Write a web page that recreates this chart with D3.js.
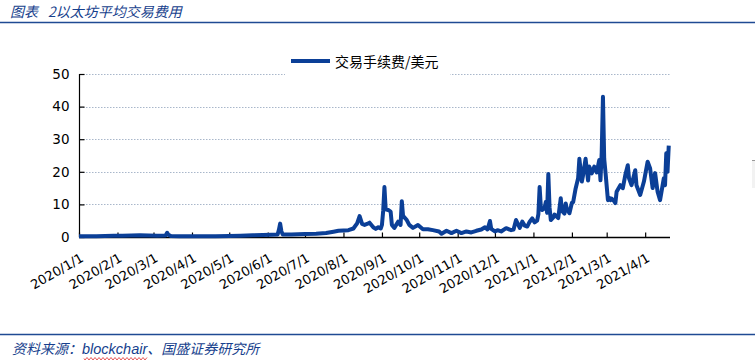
<!DOCTYPE html>
<html>
<head>
<meta charset="utf-8">
<script src="https://cdn.jsdelivr.net/npm/d3@7"></script>
<style>
  html, body { margin: 0; padding: 0; background: #fff; }
  svg { display: block; }
</style>
</head>
<body>
<svg id="chart" width="755" height="360"></svg>
<script>
// ---------- data ----------
const titleLabel = "图表";
const titleText = "2以太坊平均交易费用";
const seriesName = "交易手续费/美元";
const sourcePre = "资料来源：";
const sourceLatin = "blockchair";
const sourcePost = "、国盛证券研究所";

const yTicks = [0, 10, 20, 30, 40, 50];

const dates = [
  "2020-01-01","2020-01-08","2020-01-15","2020-01-22","2020-01-29","2020-02-05","2020-02-12","2020-02-19","2020-02-26",
  "2020-03-04","2020-03-10","2020-03-11","2020-03-12","2020-03-13","2020-03-15","2020-03-22","2020-04-01","2020-04-10",
  "2020-04-20","2020-05-01","2020-05-10","2020-05-20","2020-05-28","2020-06-04","2020-06-09","2020-06-10","2020-06-11",
  "2020-06-12","2020-06-13","2020-06-20","2020-07-01","2020-07-10","2020-07-18","2020-07-24","2020-07-28","2020-08-01",
  "2020-08-05","2020-08-09","2020-08-12","2020-08-14","2020-08-16","2020-08-18","2020-08-20","2020-08-22","2020-08-25",
  "2020-08-27","2020-08-29","2020-08-31","2020-09-01","2020-09-02","2020-09-03","2020-09-04","2020-09-06","2020-09-08",
  "2020-09-09","2020-09-11","2020-09-14","2020-09-16","2020-09-17","2020-09-18","2020-09-21","2020-09-23","2020-09-26",
  "2020-09-30","2020-10-04","2020-10-08","2020-10-12","2020-10-17","2020-10-19","2020-10-23","2020-10-27","2020-10-31",
  "2020-11-04","2020-11-08","2020-11-12","2020-11-16","2020-11-20","2020-11-23","2020-11-25","2020-11-27","2020-11-28",
  "2020-12-01","2020-12-03","2020-12-06","2020-12-10","2020-12-14","2020-12-16","2020-12-18","2020-12-21","2020-12-23",
  "2020-12-25","2020-12-27","2020-12-29","2020-12-31","2021-01-02","2021-01-04","2021-01-05","2021-01-06","2021-01-07",
  "2021-01-08","2021-01-10","2021-01-11","2021-01-12","2021-01-13","2021-01-14","2021-01-15","2021-01-17","2021-01-18",
  "2021-01-21","2021-01-23","2021-01-24","2021-01-26","2021-01-27","2021-01-28","2021-01-30","2021-02-01","2021-02-02",
  "2021-02-04","2021-02-06","2021-02-07","2021-02-09","2021-02-10","2021-02-12","2021-02-14","2021-02-15","2021-02-17",
  "2021-02-19","2021-02-21","2021-02-23","2021-02-24","2021-02-25","2021-02-26","2021-02-27","2021-02-28","2021-03-02",
  "2021-03-03","2021-03-04","2021-03-05","2021-03-07","2021-03-08","2021-03-09","2021-03-12","2021-03-14","2021-03-16",
  "2021-03-18","2021-03-19","2021-03-21","2021-03-24","2021-03-25","2021-03-28","2021-03-31","2021-04-03","2021-04-05",
  "2021-04-07","2021-04-09","2021-04-11","2021-04-13","2021-04-16","2021-04-17","2021-04-18","2021-04-19","2021-04-20"
];
const fees = [
  0.2,0.2,0.25,0.3,0.35,0.4,0.45,0.5,0.45,
  0.4,0.45,0.6,1.3,0.7,0.3,0.2,0.2,0.2,
  0.2,0.3,0.4,0.5,0.6,0.7,0.8,2.2,4.1,
  1.8,0.8,0.8,0.9,1.0,1.2,1.6,1.9,2.0,
  2.1,2.6,4.2,6.4,4.0,3.7,4.0,4.4,3.0,
  2.5,3.0,2.6,3.7,8.0,15.3,8.5,8.3,7.8,
  3.7,2.8,4.7,3.7,11.0,6.5,5.2,3.7,2.8,
  3.7,2.4,2.4,2.1,1.7,1.0,1.9,1.2,1.9,
  1.2,1.7,1.4,1.9,2.3,3.0,2.3,4.9,2.5,
  1.7,2.1,1.7,2.7,2.1,2.3,5.2,2.8,4.7,
  3.5,3.2,4.7,5.7,4.5,5.0,7.0,15.3,9.0,
  8.3,9.0,10.8,7.4,19.3,9.0,5.2,6.0,6.9,
  5.8,11.9,8.0,7.2,10.3,8.5,7.3,10.5,10.7,
  14.9,18.0,24.0,17.0,19.0,24.0,17.3,21.6,19.5,
  21.6,19.8,23.6,17.4,26.0,43.0,24.0,20.0,11.3,
  12.0,11.3,11.8,11.0,10.4,13.9,15.9,15.0,19.0,
  22.0,18.0,15.9,20.5,15.9,12.9,17.0,23.1,21.0,
  15.0,19.6,13.9,11.3,18.0,15.9,25.7,20.0,28.0
];

// ---------- drawing ----------
const parse = d3.timeParse("%Y-%m-%d");
const data = dates.map((d, i) => ({ date: parse(d), value: fees[i] }));

const svg = d3.select("#chart");
const blue = "#0b3f97";
const textBlue = "#173f8d";

// header
const title = svg.append("text")
  .attr("y", 17)
  .attr("font-family", "Noto Sans CJK SC")
  .attr("font-style", "italic")
  .attr("font-size", 14)
  .attr("fill", textBlue);
title.append("tspan").attr("x", 10).text(titleLabel);
title.append("tspan").attr("x", 48).text(titleText);
svg.append("line")
  .attr("x1", 0).attr("x2", 755).attr("y1", 22.5).attr("y2", 22.5)
  .attr("stroke", "#1f4a93").attr("stroke-width", 1.5);

const x = d3.scaleTime()
  .domain([parse("2020-01-01"), parse("2021-04-21")])
  .range([79, 670]);
const y = d3.scaleLinear().domain([0, 50]).range([237, 74]);

// gridlines
svg.append("g")
  .selectAll("line")
  .data(yTicks.filter(t => t > 0))
  .join("line")
  .attr("x1", 80).attr("x2", 670)
  .attr("y1", d => Math.round(y(d)) + 0.5).attr("y2", d => Math.round(y(d)) + 0.5)
  .attr("stroke", "#a9b7ca").attr("stroke-width", 1)
  .attr("stroke-dasharray", "1.5,1.5");

// legend (white box covering gridline)
svg.append("rect").attr("x", 285).attr("y", 48).attr("width", 165).attr("height", 27).attr("fill", "#fff");
svg.append("line")
  .attr("x1", 291).attr("x2", 330).attr("y1", 61).attr("y2", 61)
  .attr("stroke", blue).attr("stroke-width", 4);
svg.append("text")
  .attr("x", 335).attr("y", 66.5)
  .attr("font-family", "Noto Sans CJK SC")
  .attr("font-size", 14)
  .attr("fill", "#000")
  .text(seriesName);

// y axis
const yAxis = d3.axisLeft(y).tickValues(yTicks).tickSize(-5).tickPadding(10).tickFormat(d3.format("d"));
const gy = svg.append("g").attr("transform", "translate(79.5,0)").call(yAxis);
gy.select(".domain").attr("stroke", "#000").attr("stroke-width", 1.2).attr("d", `M0,${y(50)}V${y(0)}`);
gy.selectAll(".tick line").attr("stroke", "#000").attr("stroke-width", 1.2);
gy.selectAll(".tick text")
  .attr("font-family", "DejaVu Sans").attr("font-size", 13.5).attr("fill", "#000");

// x axis
const xAxis = d3.axisBottom(x)
  .ticks(d3.timeMonth.every(1))
  .tickSize(-5)
  .tickFormat(d3.timeFormat("%Y/%-m/%-d"));
const gx = svg.append("g").attr("transform", "translate(0,237.5)").call(xAxis);
gx.select(".domain").attr("stroke", "#000").attr("stroke-width", 1.5).attr("d", "M79,0H670");
gx.selectAll(".tick line").attr("stroke", "#000").attr("stroke-width", 1.2);
gx.selectAll(".tick text")
  .attr("font-family", "DejaVu Sans").attr("font-size", 13).attr("fill", "#000")
  .attr("text-anchor", "end")
  .attr("dy", 0)
  .attr("y", 0)
  .attr("transform", "translate(5,23) rotate(-30)");

// line
const line = d3.line().x(d => x(d.date)).y(d => y(d.value));
svg.append("path")
  .datum(data)
  .attr("d", line)
  .attr("fill", "none")
  .attr("stroke", blue)
  .attr("stroke-width", 4)
  .attr("stroke-linejoin", "round")
  .attr("stroke-linecap", "butt");

// footer
svg.append("line")
  .attr("x1", 0).attr("x2", 755).attr("y1", 334.5).attr("y2", 334.5)
  .attr("stroke", "#1f4a93").attr("stroke-width", 1.5);
const foot = svg.append("text")
  .attr("x", 12).attr("y", 354)
  .attr("font-family", "Noto Sans CJK SC")
  .attr("font-style", "italic")
  .attr("font-size", 14)
  .attr("fill", textBlue);
foot.append("tspan").text(sourcePre);
foot.append("tspan").attr("font-family", "Liberation Sans").attr("font-size", 14.5).text(sourceLatin);
foot.append("tspan").text(sourcePost);

// red wavy underline under the latin word
let wave = "M84,358.5";
for (let xx = 84; xx < 147; xx += 2) wave += `L${xx + 1},${(xx / 2) % 2 === 0 ? 360 : 357.5}`;
svg.append("path").attr("d", wave).attr("fill", "none").attr("stroke", "#e03030").attr("stroke-width", 0.8);

// small grey artefact at the right edge
svg.append("rect").attr("x", 752).attr("y", 160).attr("width", 3).attr("height", 28).attr("fill", "#f2f2f2");
svg.append("line").attr("x1", 752).attr("x2", 755).attr("y1", 160.5).attr("y2", 160.5).attr("stroke", "#999");
</script>
</body>
</html>
